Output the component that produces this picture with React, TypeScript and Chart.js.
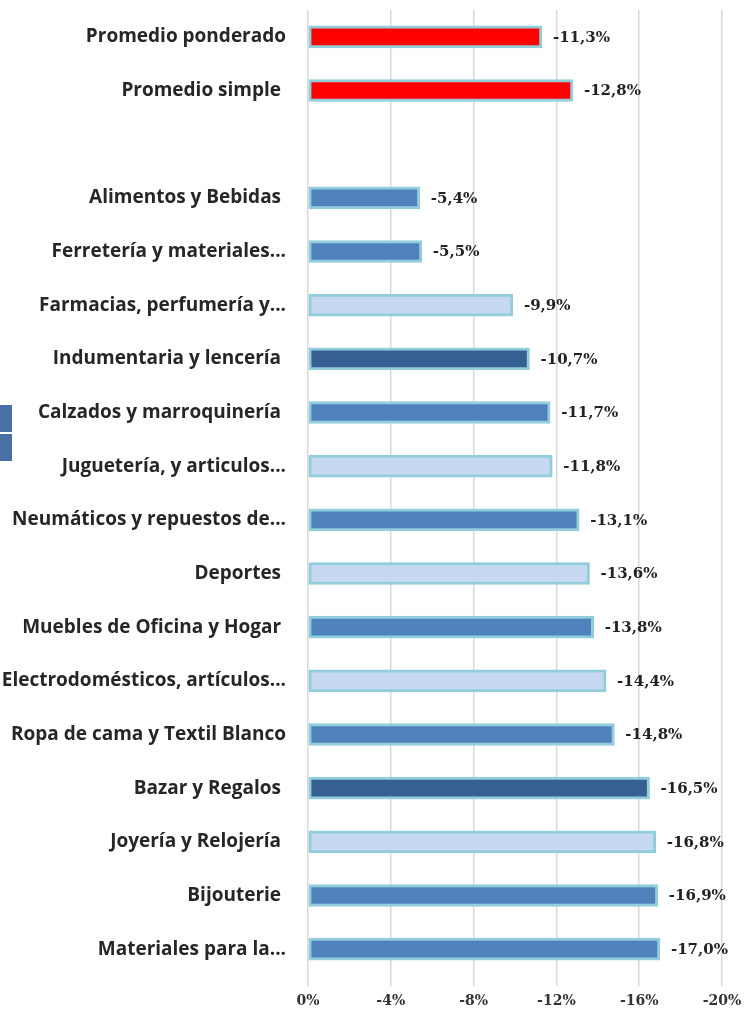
import React, { useEffect, useRef } from "react";
import { Chart, registerables } from "chart.js";

Chart.register(...registerables);

const categories = [
  "Promedio ponderado",
  "Promedio simple ",
  "",
  "Alimentos y Bebidas ",
  "Ferretería y materiales...",
  "Farmacias, perfumería y...",
  "Indumentaria y lencería ",
  "Calzados y marroquinería ",
  "Juguetería, y articulos...",
  "Neumáticos y repuestos de...",
  "Deportes ",
  "Muebles de Oficina y Hogar ",
  "Electrodomésticos, artículos...",
  "Ropa de cama y Textil Blanco",
  "Bazar y Regalos ",
  "Joyería y Relojería ",
  "Bijouterie ",
  "Materiales para la...",
];

const values: (number | null)[] = [
  -11.3, -12.8, null, -5.4, -5.5, -9.9, -10.7, -11.7, -11.8, -13.1, -13.6, -13.8, -14.4, -14.8, -16.5,
  -16.8, -16.9, -17.0,
];

// color group per category: r = red, m = medium blue, l = light blue, d = dark blue
const colorGroups = ["r", "r", "m", "m", "m", "l", "d", "m", "l", "m", "l", "m", "l", "m", "d", "l", "m", "m"];

const xTicks = [0, -4, -8, -12, -16, -20];

const palette: Record<string, string> = {
  r: "#ff0000",
  m: "#4f81bd",
  l: "#c6d9f1",
  d: "#366092",
};

const valueLabels = {
  id: "valueLabels",
  afterDatasetsDraw(chart: any) {
    const ctx = chart.ctx;
    const meta = chart.getDatasetMeta(0);
    ctx.save();
    ctx.font = "bold 15px 'DejaVu Serif', serif";
    ctx.fillStyle = "#222222";
    ctx.textAlign = "left";
    ctx.textBaseline = "middle";
    meta.data.forEach((el: any, i: number) => {
      const v = values[i];
      if (v === null || v === undefined) return;
      const txt = v.toFixed(1).replace(".", ",") + "%";
      ctx.fillText(txt, el.x + 11, el.y + 1);
    });
    ctx.restore();
  },
};

export default function App() {
  const ref = useRef<HTMLCanvasElement>(null);

  useEffect(() => {
    if (!ref.current) return;
    const chart = new Chart(ref.current, {
      type: "bar",
      data: {
        labels: categories,
        datasets: [
          {
            data: values,
            backgroundColor: colorGroups.map((g) => palette[g]),
            borderColor: "#92cddc",
            borderWidth: 3,
            borderSkipped: false,
            barThickness: 22,
          },
        ],
      },
      plugins: [valueLabels],
      options: {
        indexAxis: "y",
        animation: false,
        responsive: false,
        maintainAspectRatio: false,
        layout: { padding: { top: 10, right: 34, left: 0, bottom: 0 } },
        plugins: {
          legend: { display: false },
          tooltip: { enabled: false },
        },
        scales: {
          x: {
            type: "linear",
            min: -20,
            max: 0,
            reverse: true,
            afterBuildTicks(scale: any) {
              scale.ticks = xTicks.map((v) => ({ value: v }));
            },
            afterFit(scale: any) {
              scale.height = 34;
              scale.paddingLeft = 0;
              scale.paddingRight = 0;
            },
            grid: {
              color: "#d9d9d9",
              lineWidth: 1.5,
              drawTicks: true,
              tickLength: 10,
            },
            border: { display: false },
            ticks: {
              padding: 7,
              color: "#333333",
              font: { family: "'DejaVu Serif', serif", weight: "bold", size: 14 },
              callback: (v: any) => (Number(v) === 0 ? "0%" : v + "%"),
            },
          },
          y: {
            type: "category",
            afterFit(scale: any) {
              scale.width = 308;
              scale.paddingTop = 0;
              scale.paddingBottom = 0;
            },
            grid: { display: false },
            border: { display: false },
            ticks: {
              padding: 14,
              color: "#262626",
              autoSkip: false,
              font: { family: "'Open Sans', sans-serif", weight: "bold", size: 19 },
            },
          },
        },
      },
    });
    return () => chart.destroy();
  }, []);

  return (
    <div style={{ position: "absolute", left: 0, top: 0, width: 756, height: 1010, background: "#fff" }}>
      <div style={{ position: "absolute", left: 0, top: 405, width: 12, height: 27, background: "#4a6fa5" }} />
      <div style={{ position: "absolute", left: 0, top: 434, width: 12, height: 27, background: "#4a6fa5" }} />
      <canvas ref={ref} width={756} height={1010} style={{ position: "absolute", left: 0, top: 0 }} />
    </div>
  );
}
